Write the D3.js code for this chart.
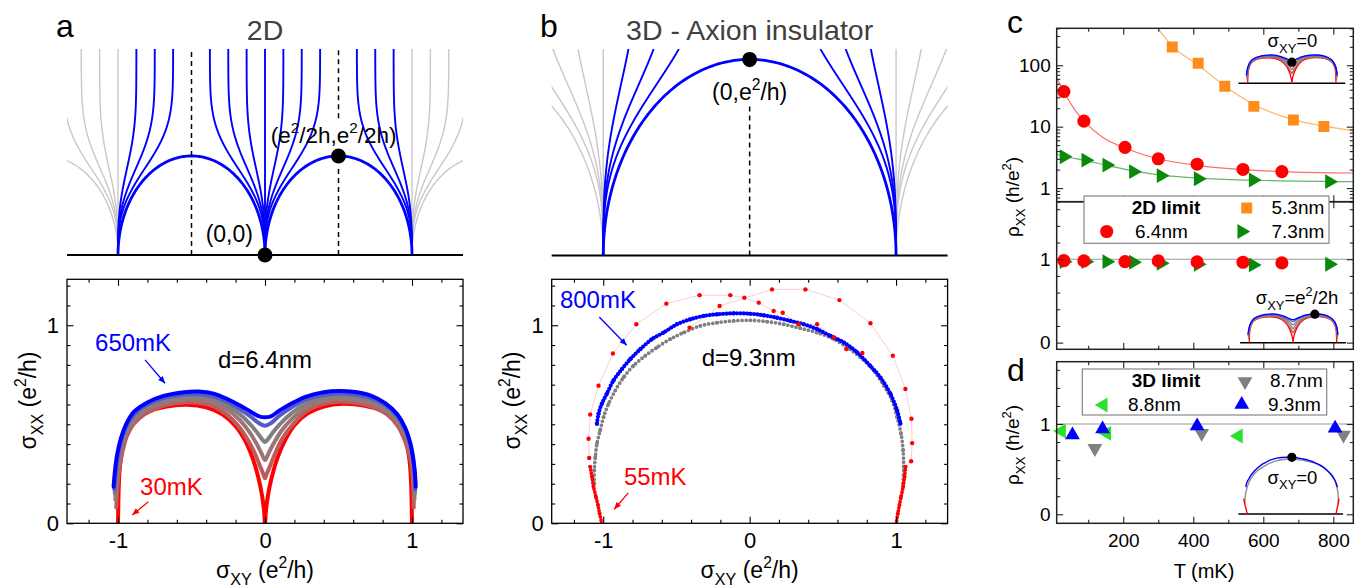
<!DOCTYPE html>
<html><head><meta charset="utf-8">
<script src="https://cdn.jsdelivr.net/npm/d3@7"></script>
<style>
body{margin:0;background:#fff;}
svg{display:block;}
</style></head><body>
<svg id="fig" width="1363" height="587"></svg>
<script>
// ================= DATA =================
// ---- panel a (top): 2D flow schematic: [fixed point sigma_xy, asymptotic offset]
const flow2DBlue = [[-1,0.125],[-1,0.25],[-1,0.375],[0,-0.375],[0,-0.25],[0,-0.125],[0,0],[0,0.125],[0,0.25],[0,0.375],[1,-0.125],[1,-0.25],[1,-0.375]];
const flow2DGray = [[-1,0],[-1,-0.125],[-1,-0.25],[-1,-0.375],[1,0],[1,0.125],[1,0.25],[1,0.375]];
const sep2DBlue = [[-0.5,0.5],[0.5,0.5]];   // [centre, radius]
const sep2DGray = [[-1.5,0.5],[1.5,0.5]];
const dots2D = [[0,0],[0.5,0.5]];
const dash2D = [[-0.5,0,1.04],[0.5,0.69,1.04],[0.5,0,0.455]]; // [x, y0, y1]
// ---- panel b (top): 3D flow schematic
const flow3DBlue = [[-1,0.25],[-1,0.5],[-1,0.75],[1,-0.25],[1,-0.5],[1,-0.75]];
const flow3DGray = [[-1,0],[-1,-0.25],[-1,-0.5],[-1,-0.75],[1,0],[1,0.25],[1,0.5],[1,0.75]];
const sep3DBlue = [[0,1]];
const sep3DGray = [[-2,1],[2,1]];
const dots3D = [[0,1]];
const dash3D = [[0,0.96,1.0],[0,0,0.765]];

// ---- panel a (bottom): sigma_xx vs sigma_xy, d = 6.4 nm, 30 mK (red) ... 650 mK (blue)
const aCurve30mK = [[-1.0,0],[-0.998,0.09],[-0.995,0.18],[-0.99,0.26],[-0.978,0.34],[-0.955,0.42],[-0.92,0.48],[-0.87,0.53],[-0.79,0.565],[-0.67,0.59],[-0.53,0.598],[-0.40,0.585],[-0.29,0.55],[-0.20,0.49],[-0.13,0.41],[-0.08,0.32],[-0.045,0.23],[-0.02,0.14],[-0.006,0.06],[0,0],[0.006,0.06],[0.02,0.14],[0.045,0.23],[0.08,0.32],[0.13,0.41],[0.20,0.495],[0.29,0.555],[0.40,0.59],[0.53,0.603],[0.67,0.595],[0.79,0.57],[0.87,0.535],[0.92,0.485],[0.955,0.425],[0.978,0.345],[0.99,0.26],[0.995,0.18],[0.998,0.09],[1.0,0]];
const aCurve2 = [[-1.012,0.08],[-1.004,0.18],[-0.992,0.27],[-0.97,0.36],[-0.94,0.44],[-0.895,0.50],[-0.82,0.55],[-0.70,0.592],[-0.55,0.61],[-0.45,0.608],[-0.35,0.59],[-0.26,0.55],[-0.18,0.49],[-0.12,0.425],[-0.07,0.355],[-0.035,0.29],[-0.012,0.25],[0,0.227],[0.012,0.25],[0.035,0.29],[0.07,0.355],[0.12,0.43],[0.19,0.5],[0.28,0.565],[0.40,0.603],[0.50,0.614],[0.60,0.61],[0.72,0.59],[0.83,0.55],[0.905,0.49],[0.95,0.42],[0.985,0.34],[1.003,0.25],[1.01,0.16],[1.012,0.08]];
const aCurve3 = [[-1.018,0.12],[-1.008,0.22],[-0.994,0.31],[-0.972,0.395],[-0.94,0.46],[-0.89,0.525],[-0.80,0.578],[-0.68,0.61],[-0.55,0.625],[-0.45,0.624],[-0.35,0.608],[-0.25,0.57],[-0.17,0.52],[-0.11,0.465],[-0.06,0.405],[-0.025,0.355],[0,0.32],[0.025,0.355],[0.06,0.405],[0.11,0.465],[0.18,0.525],[0.28,0.585],[0.40,0.618],[0.50,0.627],[0.60,0.622],[0.72,0.605],[0.82,0.57],[0.90,0.515],[0.955,0.445],[0.99,0.37],[1.008,0.29],[1.015,0.2],[1.017,0.12]];
const aCurve4 = [[-1.022,0.15],[-1.012,0.24],[-0.998,0.33],[-0.975,0.41],[-0.943,0.475],[-0.89,0.54],[-0.80,0.59],[-0.68,0.622],[-0.55,0.638],[-0.45,0.638],[-0.35,0.625],[-0.25,0.59],[-0.17,0.55],[-0.10,0.50],[-0.05,0.455],[-0.015,0.42],[0,0.41],[0.015,0.42],[0.05,0.455],[0.10,0.50],[0.18,0.555],[0.28,0.605],[0.40,0.632],[0.50,0.64],[0.60,0.635],[0.72,0.62],[0.82,0.585],[0.90,0.53],[0.955,0.46],[0.99,0.38],[1.01,0.30],[1.018,0.22],[1.02,0.15]];
const aCurve5 = [[-1.025,0.17],[-1.015,0.26],[-1.0,0.34],[-0.976,0.42],[-0.945,0.485],[-0.89,0.55],[-0.80,0.60],[-0.69,0.632],[-0.55,0.65],[-0.45,0.652],[-0.35,0.64],[-0.25,0.61],[-0.17,0.575],[-0.10,0.54],[-0.04,0.505],[0,0.492],[0.04,0.505],[0.10,0.545],[0.18,0.585],[0.28,0.625],[0.40,0.648],[0.50,0.655],[0.60,0.65],[0.72,0.632],[0.82,0.595],[0.90,0.54],[0.955,0.47],[0.99,0.39],[1.01,0.31],[1.02,0.24],[1.022,0.17]];
const aCurve650mK = [[-1.03,0.185],[-1.02,0.27],[-1.005,0.35],[-0.98,0.43],[-0.948,0.495],[-0.895,0.56],[-0.80,0.61],[-0.69,0.643],[-0.55,0.662],[-0.45,0.665],[-0.35,0.655],[-0.25,0.625],[-0.17,0.595],[-0.10,0.565],[-0.04,0.54],[0,0.535],[0.04,0.54],[0.10,0.57],[0.18,0.605],[0.28,0.64],[0.40,0.662],[0.50,0.668],[0.60,0.664],[0.72,0.645],[0.82,0.605],[0.90,0.55],[0.955,0.48],[0.99,0.40],[1.01,0.32],[1.02,0.25],[1.025,0.185]];
const aCurves = [aCurve30mK, aCurve2, aCurve3, aCurve4, aCurve5, aCurve650mK];
const aColors = ["#ff0000","#c05a5a","#9a7676","#808080","#5a5ac6","#0000ff"];

// ---- panel b (bottom): d = 9.3 nm
const bBlue800mK = [[-1.043,0.503],[-1.032,0.553],[-1.010,0.603],[-0.976,0.653],[-0.931,0.720],[-0.872,0.779],[-0.815,0.829],[-0.747,0.879],[-0.667,0.930],[-0.588,0.963],[-0.496,1.005],[-0.405,1.030],[-0.314,1.047],[-0.223,1.055],[-0.109,1.060],[0.005,1.058],[0.096,1.050],[0.187,1.038],[0.278,1.022],[0.369,1.005],[0.461,0.980],[0.552,0.946],[0.643,0.913],[0.734,0.863],[0.825,0.794],[0.893,0.736],[0.962,0.653],[1.007,0.570],[1.030,0.503]];
const bGray = [[-1.061,0.201],[-1.061,0.268],[-1.054,0.335],[-1.043,0.402],[-1.021,0.469],[-0.998,0.536],[-0.964,0.603],[-0.918,0.670],[-0.861,0.737],[-0.793,0.796],[-0.713,0.846],[-0.633,0.888],[-0.542,0.930],[-0.451,0.963],[-0.337,0.997],[-0.223,1.013],[-0.109,1.022],[0.005,1.025],[0.119,1.018],[0.232,1.005],[0.346,0.985],[0.461,0.963],[0.574,0.930],[0.666,0.888],[0.757,0.838],[0.848,0.771],[0.916,0.696],[0.973,0.620],[1.007,0.536],[1.034,0.452],[1.048,0.369],[1.052,0.285],[1.048,0.201]];
const bRedLeft55mK = [[-1.089,0.285],[-1.077,0.235],[-1.066,0.184],[-1.050,0.134],[-1.036,0.092],[-1.025,0.050],[-1.010,0.0]];
const bRedRight55mK = [[1.065,0.285],[1.058,0.235],[1.048,0.184],[1.034,0.134],[1.023,0.092],[1.012,0.050],[1.001,0.0]];
const bRedSweep1 = [[-1.096,0.33],[-1.100,0.427],[-1.089,0.549],[-1.032,0.695],[-0.934,0.857],[-0.774,1.005],[-0.569,1.109],[-0.342,1.152],[-0.132,1.152],[-0.036,1.139],[0.062,1.114],[0.164,1.072],[0.226,1.063],[0.335,1.005],[0.461,1.005],[0.574,0.94],[0.66,0.88],[0.77,0.86]];
const bRedSweep2 = [[-0.41,0.988],[-0.205,1.097],[0.153,1.181],[0.381,1.181],[0.613,1.127],[0.825,1.010],[0.978,0.846],[1.064,0.678],[1.105,0.528],[1.110,0.405],[1.103,0.313]];

// ---- panel c: rho_xx (h/e^2) vs T (mK), sigma_xy = 0 (log) and sigma_xy = e^2/2h (linear)
const T53 = [340, 414, 490, 573, 686, 773];
const rho53 = [199, 108, 45.4, 21.4, 12.8, 10.1];
const T64 = [30.6, 87.7, 205, 300, 411, 542, 653];
const rho64 = [37.3, 12.3, 4.6, 3.0, 2.45, 2.01, 1.85];
const T73 = [31, 93, 153, 229, 308, 414, 571, 789];
const rho73 = [3.24, 2.85, 2.37, 1.85, 1.59, 1.42, 1.355, 1.27];
const fitT53 = [290, 340, 414, 490, 573, 686, 773, 857];
const fit53 = [470, 205, 101, 46, 23, 13, 10.2, 8.6];
const fitT64 = [10, 30.6, 60, 87.7, 140, 205, 300, 411, 542, 653, 857];
const fit64 = [62, 37, 19.5, 12.4, 6.8, 4.5, 3.0, 2.35, 2.0, 1.86, 1.76];
const fitT73 = [10, 31, 93, 153, 229, 308, 414, 571, 789, 857];
const fit73 = [3.55, 3.3, 2.8, 2.35, 1.9, 1.62, 1.45, 1.34, 1.28, 1.27];
const rhoHalf64 = [0.983, 0.98, 0.971, 0.98, 0.968, 0.964, 0.956];
const rhoHalf73 = [0.971, 0.971, 0.971, 0.964, 0.952, 0.94, 0.932, 0.94];
// ---- panel d: 3D limit
const T87 = [119, 424, 829];
const rho87 = [0.73, 0.897, 0.878];
const T88 = [24, 153, 529];
const rho88 = [0.922, 0.897, 0.867];
const T93 = [55, 141, 411, 805];
const rho93 = [0.878, 0.945, 0.978, 0.952];

// tick values
const xTickMajorAB = [-1, 0, 1];
const xTickMinorAB = [-1.2,-0.8,-0.6,-0.4,-0.2,0.2,0.4,0.6,0.8,1.2];
const yTickMajorAB = [0, 1];
const yTickMinorAB = [0.1,0.2,0.3,0.4,0.5,0.6,0.7,0.8,0.9,1.1,1.2];
const tTickMajor = [200, 400, 600, 800];
const tTickMinor = [100, 300, 500, 700];
const logTickMajor = [1, 10, 100];
const logTickMinor = [0.6,0.7,0.8,0.9,2,3,4,5,6,7,8,9,20,30,40,50,60,70,80,90,200,300,400];
const linTickMajor = [0, 1];
const linTickMinor = [0.2,0.4,0.6,0.8,1.2,1.4,1.6];

// ================= DRAWING =================
const FONT = '"Liberation Sans", Arial, Helvetica, sans-serif';
const svg = d3.select("#fig").attr("font-family", FONT);
const defs = svg.append("defs");
function clip(id, x, y, w, h){ defs.append("clipPath").attr("id", id).append("rect").attr("x",x).attr("y",y).attr("width",w).attr("height",h); }

const xA = d3.scaleLinear().domain([-1.347,1.347]).range([67,463]);
const yAt = d3.scaleLinear().domain([0,1.04]).range([255,49]);
const yAb = d3.scaleLinear().domain([0,1.232]).range([523.3,279.3]);
const xB = d3.scaleLinear().domain([-1.352,1.352]).range([551.7,947.6]);
const yBt = d3.scaleLinear().domain([0,1.053]).range([255.5,49]);
const yBb = d3.scaleLinear().domain([0,1.232]).range([523.3,279.3]);
const xC = d3.scaleLinear().domain([10,857]).range([1056.7,1353.3]);
const yCt = d3.scaleLog().domain([0.6,400]).range([201.7,28.3]);
const yCb = d3.scaleLinear().domain([-0.08,1.69]).range([349.3,201.7]);
const yD = d3.scaleLinear().domain([-0.1,1.69]).range([523.3,361.7]);

function rich(sel, parts, size){
  let shift = 0;
  parts.forEach(p => {
    const t = p[0], m = p[1] || "";
    const ts = sel.append("tspan").text(t);
    let target = 0, fs = size;
    if (m === "sub") { target = 0.3*size; fs = 0.7*size; }
    if (m === "sup") { target = -0.42*size; fs = 0.68*size; }
    ts.attr("font-size", fs);
    if (Math.abs(target - shift) > 1e-6) { ts.attr("dy", target - shift); shift = target; }
  });
  return sel;
}
function txt(g, x, y, parts, size, anchor, color, extra){
  const t = g.append("text").attr("x", x).attr("y", y).attr("text-anchor", anchor||"start")
    .attr("fill", color||"#000").attr("font-size", size);
  if (extra) extra(t);
  return rich(t, parts, size);
}

// flow line from fixed point x0 with asymptotic offset a, radius scale R
function flowPts(x0, a, R, yTop){
  const pts = [];
  for (let i = 0; i <= 150; i++){ const y = yTop*i/150; pts.push([x0 + a*(1 - Math.exp(-Math.pow(y/R,3))), y]); }
  return pts;
}
function arcPts(c, r){
  const pts = [];
  for (let i = 0; i <= 180; i++){ const t = Math.PI*i/180; pts.push([c - r*Math.cos(t), r*Math.sin(t)]); }
  return pts;
}

function schematic(x, y, R, yTop, blue, gray, sepB, sepG, dots, dashes, clipId){
  const g = svg.append("g");
  const gc = g.append("g").attr("clip-path", `url(#${clipId})`);
  const ln = d3.line().x(d => x(d[0])).y(d => y(d[1]));
  gray.forEach(([x0,a]) => gc.append("path").attr("d", ln(flowPts(x0,a,R,yTop))).attr("fill","none").attr("stroke","#c8c8c8").attr("stroke-width",1.4));
  sepG.forEach(([c,r]) => gc.append("path").attr("d", ln(arcPts(c,r))).attr("fill","none").attr("stroke","#c8c8c8").attr("stroke-width",1.4));
  blue.forEach(([x0,a]) => gc.append("path").attr("d", ln(flowPts(x0,a,R,yTop))).attr("fill","none").attr("stroke","#0000ff").attr("stroke-width",1.9));
  sepB.forEach(([c,r]) => gc.append("path").attr("d", ln(arcPts(c,r))).attr("fill","none").attr("stroke","#0000ff").attr("stroke-width",2.8));
  dashes.forEach(([dx,y0,y1]) => g.append("line").attr("x1",x(dx)).attr("x2",x(dx)).attr("y1",y(y0)).attr("y2",y(y1))
     .attr("stroke","#000").attr("stroke-width",1.5).attr("stroke-dasharray","5,4"));
  const [r0, r1] = x.range();
  g.append("line").attr("x1",r0).attr("x2",r1).attr("y1",y(0)).attr("y2",y(0)).attr("stroke","#000").attr("stroke-width",2);
  dots.forEach(([dx,dy]) => g.append("circle").attr("cx",x(dx)).attr("cy",y(dy)).attr("r",7.5).attr("fill","#000"));
  return g;
}

clip("clipAt", 67, 49, 396, 206);
clip("clipBt", 551.7, 49, 395.9, 206.5);
const gAt = schematic(xA, yAt, 0.5, 1.04, flow2DBlue, flow2DGray, sep2DBlue, sep2DGray, dots2D, dash2D, "clipAt");
const gBt = schematic(xB, yBt, 1.0, 1.053, flow3DBlue, flow3DGray, sep3DBlue, sep3DGray, dots3D, dash3D, "clipBt");
txt(gAt, xA(-0.082), yAt(0.066), [["(0,0)"]], 23, "end");
txt(gAt, xA(0.039), yAt(0.566), [["(e"],["2","sup"],["/2h,e"],["2","sup"],["/2h)"]], 22.5, "start");
txt(gBt, xB(0), yBt(0.793), [["(0,e"],["2","sup"],["/h)"]], 23, "middle");
// titles and panel letters
txt(svg, xA(0), 40, [["2D"]], 28.5, "middle", "#404040");
txt(svg, xB(0), 39.5, [["3D - Axion insulator"]], 28.5, "middle", "#404040");
txt(svg, 56, 37, [["a"]], 32, "start");
txt(svg, 540, 37, [["b"]], 32, "start");
txt(svg, 1007, 33, [["c"]], 32, "start");
txt(svg, 1007, 381, [["d"]], 32, "start");

// ---------- generic frame with inward ticks ----------
function axisSet(g, axisFn, scale, vals, len, labels, fmt, pad, tr, fs, stroke){
  const ax = axisFn(scale).tickValues(vals).tickSizeInner(-len).tickSizeOuter(0).tickPadding(pad)
    .tickFormat(labels ? fmt : () => "");
  const gg = g.append("g").attr("transform", tr).call(ax);
  gg.select(".domain").remove();
  gg.attr("font-family", FONT).attr("font-size", fs);
  gg.selectAll("line").attr("stroke", stroke).attr("stroke-width", 1.1);
  gg.selectAll("text").attr("fill", "#000");
  return gg;
}
function frame(g, x, y, o){
  const [x0,x1] = x.range(); const [y0,y1] = y.range();
  const fmt = d => (d < 0 ? "-" + (-d) : "" + d);
  const st = o.stroke || "#000";
  if (o.bottom !== false){
    axisSet(g, d3.axisBottom, x, o.xMinor, 3.5, false, fmt, 0, `translate(0,${y0})`, o.fs, st);
    axisSet(g, d3.axisBottom, x, o.xMajor, 6.5, o.xLabels, fmt, o.xPad, `translate(0,${y0})`, o.fs, st);
  }
  axisSet(g, d3.axisTop, x, o.xMinor, 3.5, false, fmt, 0, `translate(0,${y1})`, o.fs, st);
  axisSet(g, d3.axisTop, x, o.xMajor, 6.5, false, fmt, 0, `translate(0,${y1})`, o.fs, st);
  axisSet(g, d3.axisLeft, y, o.yMinor, 3.5, false, fmt, 0, `translate(${x0},0)`, o.fs, st);
  axisSet(g, d3.axisLeft, y, o.yMajor, 6.5, true, fmt, o.yPad, `translate(${x0},0)`, o.fs, st);
  axisSet(g, d3.axisRight, y, o.yMinor, 3.5, false, fmt, 0, `translate(${x1},0)`, o.fs, st);
  axisSet(g, d3.axisRight, y, o.yMajor, 6.5, false, fmt, 0, `translate(${x1},0)`, o.fs, st);
  g.append("rect").attr("x", x0).attr("y", y1).attr("width", x1-x0).attr("height", y0-y1)
    .attr("fill","none").attr("stroke", st).attr("stroke-width", o.sw || 1.3);
}

// ---------- panel a bottom ----------
const gAb = svg.append("g");
clip("clipAb", 67, 279.3, 396, 244);
const lineAb = d3.line().x(d => xA(d[0])).y(d => yAb(d[1])).curve(d3.curveCatmullRom.alpha(0.5));
const gAbc = gAb.append("g").attr("clip-path","url(#clipAb)");
aCurves.forEach((c,i) => gAbc.append("path").attr("d", lineAb(c)).attr("fill","none")
  .attr("stroke", aColors[i]).attr("stroke-width", 4).attr("stroke-linejoin","round").attr("stroke-linecap","round"));
frame(gAb, xA, yAb, {xMajor:xTickMajorAB, xMinor:xTickMinorAB, yMajor:yTickMajorAB, yMinor:yTickMinorAB, xLabels:true, fs:22, xPad:9, yPad:8});

function arrow(g, x, y, p0, p1, color){
  const X0 = x(p0[0]), Y0 = y(p0[1]), X1 = x(p1[0]), Y1 = y(p1[1]);
  const ang = Math.atan2(Y1-Y0, X1-X0);
  g.append("line").attr("x1",X0).attr("y1",Y0).attr("x2",X1).attr("y2",Y1).attr("stroke",color).attr("stroke-width",1.3);
  const L = 7, W = 3;
  const bx = X1 - L*Math.cos(ang), by = Y1 - L*Math.sin(ang);
  g.append("path").attr("d", `M${X1},${Y1}L${bx + W*Math.sin(ang)},${by - W*Math.cos(ang)}L${bx - W*Math.sin(ang)},${by + W*Math.cos(ang)}Z`).attr("fill", color);
}
txt(gAb, xA(-1.156), yAb(0.872), [["650mK"]], 24, "start", "#0000ff");
txt(gAb, xA(-0.32), yAb(0.783), [["d=6.4nm"]], 24, "start", "#000");
txt(gAb, xA(-0.85), yAb(0.143), [["30mK"]], 24, "start", "#ff0000");
arrow(gAb, xA, yAb, [-0.816,0.825], [-0.68,0.707], "#0000ff");
arrow(gAb, xA, yAb, [-0.794,0.109], [-0.903,0.042], "#ff0000");
txt(svg, xA(0), 578, [["σ"],["XY","sub"],[" (e"],["2","sup"],["/h)"]], 23, "middle");
txt(svg, 0, 0, [["σ"],["XX","sub"],[" (e"],["2","sup"],["/h)"]], 23, "middle", "#000",
  t => t.attr("transform", `translate(36,${yAb(0.62)}) rotate(-90)`));

// ---------- panel b bottom ----------
const gBb = svg.append("g");
clip("clipBb", 551.7, 279.3, 395.9, 244);
const gBbc = gBb.append("g").attr("clip-path","url(#clipBb)");
const lineBb = d3.line().x(d => xB(d[0])).y(d => yBb(d[1])).curve(d3.curveCatmullRom.alpha(0.5));
const lineBbLin = d3.line().x(d => xB(d[0])).y(d => yBb(d[1]));
[bRedSweep1, bRedSweep2].forEach(s => gBbc.append("path").attr("d", lineBbLin(s)).attr("fill","none").attr("stroke","#f6c0c0").attr("stroke-width",0.8));
function dotted(g, data, color, w, gap){
  g.append("path").attr("d", lineBb(data)).attr("fill","none").attr("stroke", color).attr("stroke-width", w)
    .attr("stroke-linecap","round").attr("stroke-dasharray", `0 ${gap}`);
  g.selectAll(null).data(data).join("circle").attr("cx", d => xB(d[0])).attr("cy", d => yBb(d[1])).attr("r", w/2).attr("fill", color);
}
dotted(gBbc, bGray, "#808080", 3.8, 4.2);
dotted(gBbc, bRedLeft55mK, "#ff0000", 3.8, 3.2);
dotted(gBbc, bRedRight55mK, "#ff0000", 3.8, 3.2);
dotted(gBbc, bBlue800mK, "#0000ff", 4.2, 3.4);
[bRedSweep1, bRedSweep2].forEach(s => gBbc.selectAll(null).data(s).join("circle")
  .attr("cx", d => xB(d[0])).attr("cy", d => yBb(d[1])).attr("r", 2.2).attr("fill","#ff0000"));
frame(gBb, xB, yBb, {xMajor:xTickMajorAB, xMinor:xTickMinorAB, yMajor:yTickMajorAB, yMinor:yTickMinorAB, xLabels:true, fs:22, xPad:9, yPad:8});
txt(gBb, xB(-1.296), yBb(1.086), [["800mK"]], 24, "start", "#0000ff");
txt(gBb, xB(-0.328), yBb(0.794), [["d=9.3nm"]], 24, "start", "#000");
txt(gBb, xB(-0.859), yBb(0.193), [["55mK"]], 24, "start", "#ff0000");
arrow(gBb, xB, yBb, [-1.027,1.042], [-0.84,0.899], "#0000ff");
arrow(gBb, xB, yBb, [-0.829,0.154], [-0.925,0.071], "#ff0000");
txt(svg, xB(0), 578, [["σ"],["XY","sub"],[" (e"],["2","sup"],["/h)"]], 23, "middle");
txt(svg, 0, 0, [["σ"],["XX","sub"],[" (e"],["2","sup"],["/h)"]], 23, "middle", "#000",
  t => t.attr("transform", `translate(520,${yBb(0.62)}) rotate(-90)`));

// ---------- insets ----------
function insetA(g, xi, yi, dot){
  const ln = d3.line().x(d => xi(d[0])).y(d => yi(d[1])).curve(d3.curveCatmullRom.alpha(0.5));
  g.append("line").attr("x1", xi(-1.21)).attr("x2", xi(1.21)).attr("y1", yi(0)).attr("y2", yi(0)).attr("stroke","#000").attr("stroke-width",1.6);
  aCurves.forEach((c,i) => g.append("path").attr("d", ln(c)).attr("fill","none").attr("stroke", aColors[i]).attr("stroke-width", 1.3));
  g.append("circle").attr("cx", xi(dot[0])).attr("cy", yi(dot[1])).attr("r", 4.6).attr("fill","#000");
}
function insetB(g, xi, yi, dot){
  const ln = d3.line().x(d => xi(d[0])).y(d => yi(d[1])).curve(d3.curveCatmullRom.alpha(0.5));
  g.append("line").attr("x1", xi(-1.21)).attr("x2", xi(1.16)).attr("y1", yi(0)).attr("y2", yi(0)).attr("stroke","#000").attr("stroke-width",1.6);
  [[bGray,"#909090"],[bRedLeft55mK,"#ff0000"],[bRedRight55mK,"#ff0000"],[bBlue800mK,"#0000ff"]].forEach(([c,col]) =>
    g.append("path").attr("d", ln(c)).attr("fill","none").attr("stroke", col).attr("stroke-width", 1.4));
  g.append("circle").attr("cx", xi(dot[0])).attr("cy", yi(dot[1])).attr("r", 4.6).attr("fill","#000");
}

// ---------- panel c ----------
const gC = svg.append("g");
clip("clipCt", 1056.7, 28.3, 296.6, 173.4);
const gCt = gC.append("g").attr("clip-path","url(#clipCt)");
const fitLine = d3.line().curve(d3.curveMonotoneX);
gCt.append("path").attr("d", fitLine(d3.zip(fitT53, fit53).map(d => [xC(d[0]), yCt(d[1])]))).attr("fill","none").attr("stroke","#ffb468").attr("stroke-width",1.2);
gCt.append("path").attr("d", fitLine(d3.zip(fitT64, fit64).map(d => [xC(d[0]), yCt(d[1])]))).attr("fill","none").attr("stroke","#ff6a6a").attr("stroke-width",1.2);
gCt.append("path").attr("d", fitLine(d3.zip(fitT73, fit73).map(d => [xC(d[0]), yCt(d[1])]))).attr("fill","none").attr("stroke","#6ab46a").attr("stroke-width",1.2);
const C_OR = "#ff8c1a", C_RED = "#ff0000", C_GRN = "#0a8a0a";
function markers(g, T, v, x, y, type, size, rot, color){
  g.selectAll(null).data(d3.zip(T, v)).join("path").attr("d", d3.symbol(type, size)())
    .attr("transform", d => `translate(${x(d[0])},${y(d[1])}) rotate(${rot})`).attr("fill", color);
}
markers(gCt, T53, rho53, xC, yCt, d3.symbolSquare, 120, 0, C_OR);
markers(gCt, T73, rho73, xC, yCt, d3.symbolTriangle, 95, 90, C_GRN);
markers(gCt, T64, rho64, xC, yCt, d3.symbolCircle, 135, 0, C_RED);
const fmtLog = d => "" + d;
(function(){
  const [x0,x1] = xC.range(); const [y0,y1] = yCt.range(); const st = "#222";
  axisSet(gC, d3.axisTop, xC, tTickMinor, 3.5, false, null, 0, `translate(0,${y1})`, 19, st);
  axisSet(gC, d3.axisTop, xC, tTickMajor, 6.5, false, null, 0, `translate(0,${y1})`, 19, st);
  axisSet(gC, d3.axisBottom, xC, tTickMinor, 3.5, false, null, 0, `translate(0,${y0})`, 19, st);
  axisSet(gC, d3.axisBottom, xC, tTickMajor, 6.5, false, null, 0, `translate(0,${y0})`, 19, st);
  axisSet(gC, d3.axisLeft, yCt, logTickMinor, 3.5, false, null, 0, `translate(${x0},0)`, 19, st);
  axisSet(gC, d3.axisLeft, yCt, logTickMajor, 6.5, true, fmtLog, 6, `translate(${x0},0)`, 19, st);
  axisSet(gC, d3.axisRight, yCt, logTickMinor, 3.5, false, null, 0, `translate(${x1},0)`, 19, st);
  axisSet(gC, d3.axisRight, yCt, logTickMajor, 6.5, false, null, 0, `translate(${x1},0)`, 19, st);
  gC.append("rect").attr("x",x0).attr("y",y1).attr("width",x1-x0).attr("height",y0-y1).attr("fill","none").attr("stroke",st).attr("stroke-width",1.5);
})();
insetA(gC, d3.scaleLinear().domain([-1,1]).range([1247.7,1336]), d3.scaleLinear().domain([0,0.68]).range([83.3,54.3]), [0,0.496]);
txt(gC, 1292.5, 47, [["σ"],["XY","sub"],["=0"]], 18.5, "middle");
// lower part of c
const gCb = svg.append("g");
gCb.append("line").attr("x1", xC(10)).attr("x2", xC(857)).attr("y1", yCb(1)).attr("y2", yCb(1)).attr("stroke","#999").attr("stroke-width",1.2);
markers(gCb, T73, rhoHalf73, xC, yCb, d3.symbolTriangle, 95, 90, C_GRN);
markers(gCb, T64, rhoHalf64, xC, yCb, d3.symbolCircle, 135, 0, C_RED);
frame(gCb, xC, yCb, {xMajor:tTickMajor, xMinor:tTickMinor, yMajor:linTickMajor, yMinor:linTickMinor, xLabels:false, fs:19, xPad:0, yPad:6, stroke:"#222", sw:1.5});
insetA(gCb, d3.scaleLinear().domain([-1,1]).range([1249.3,1336.7]), d3.scaleLinear().domain([0,0.68]).range([342.7,313.3]), [0.5,0.66]);
txt(gCb, 1297, 304, [["σ"],["XY","sub"],["=e"],["2","sup"],["/2h"]], 18.5, "middle");
// legend c
const gLc = svg.append("g");
gLc.append("rect").attr("x",1084).attr("y",196).attr("width",245).attr("height",47.3).attr("fill","#fff").attr("stroke","#888").attr("stroke-width",1.2);
gLc.append("text").attr("x",1131.7).attr("y",214).attr("font-size",19).attr("font-weight","bold").text("2D limit");
gLc.append("path").attr("d", d3.symbol(d3.symbolSquare,120)()).attr("transform","translate(1246.7,208)").attr("fill",C_OR);
gLc.append("text").attr("x",1271.5).attr("y",214).attr("font-size",19).text("5.3nm");
gLc.append("path").attr("d", d3.symbol(d3.symbolCircle,135)()).attr("transform","translate(1106.7,231.5)").attr("fill",C_RED);
gLc.append("text").attr("x",1135).attr("y",238).attr("font-size",19).text("6.4nm");
gLc.append("path").attr("d", d3.symbol(d3.symbolTriangle,95)()).attr("transform","translate(1241.7,231.5) rotate(90)").attr("fill",C_GRN);
gLc.append("text").attr("x",1271.5).attr("y",238).attr("font-size",19).text("7.3nm");
txt(svg, 0, 0, [["ρ"],["XX","sub"],[" (h/e"],["2","sup"],[")"]], 19, "middle", "#000",
  t => t.attr("transform", `translate(1019,197) rotate(-90)`));

// ---------- panel d ----------
const gD = svg.append("g");
gD.append("line").attr("x1", xC(10)).attr("x2", xC(857)).attr("y1", yD(1)).attr("y2", yD(1)).attr("stroke","#999").attr("stroke-width",1.2);
markers(gD, T88, rho88, xC, yD, d3.symbolTriangle, 95, -90, "#2ee02e");
markers(gD, T87, rho87, xC, yD, d3.symbolTriangle, 95, 180, "#808080");
markers(gD, T93, rho93, xC, yD, d3.symbolTriangle, 95, 0, "#0000ff");
frame(gD, xC, yD, {xMajor:tTickMajor, xMinor:tTickMinor, yMajor:linTickMajor, yMinor:linTickMinor, xLabels:true, fs:19, xPad:10, yPad:6, stroke:"#222", sw:1.5});
insetB(gD, d3.scaleLinear().domain([-1,1]).range([1247.7,1336]), d3.scaleLinear().domain([0,1.058]).range([514,457.3]), [0,1.058]);
txt(gD, 1292.5, 483.5, [["σ"],["XY","sub"],["=0"]], 18.5, "middle");
const gLd = svg.append("g");
gLd.append("rect").attr("x",1082.3).attr("y",369).attr("width",244.4).attr("height",46).attr("fill","#fff").attr("stroke","#888").attr("stroke-width",1.2);
gLd.append("text").attr("x",1131.7).attr("y",387).attr("font-size",19).attr("font-weight","bold").text("3D limit");
gLd.append("path").attr("d", d3.symbol(d3.symbolTriangle,95)()).attr("transform","translate(1245,381.5) rotate(180)").attr("fill","#808080");
gLd.append("text").attr("x",1270).attr("y",387).attr("font-size",19).text("8.7nm");
gLd.append("path").attr("d", d3.symbol(d3.symbolTriangle,95)()).attr("transform","translate(1103.3,405) rotate(-90)").attr("fill","#2ee02e");
gLd.append("text").attr("x",1128).attr("y",411).attr("font-size",19).text("8.8nm");
gLd.append("path").attr("d", d3.symbol(d3.symbolTriangle,95)()).attr("transform","translate(1241.7,404.5)").attr("fill","#0000ff");
gLd.append("text").attr("x",1268).attr("y",411).attr("font-size",19).text("9.3nm");
txt(svg, 0, 0, [["ρ"],["XX","sub"],[" (h/e"],["2","sup"],[")"]], 19, "middle", "#000",
  t => t.attr("transform", `translate(1019,445) rotate(-90)`));
txt(svg, 1204, 578, [["T (mK)"]], 20, "middle");
</script>
</body></html>
